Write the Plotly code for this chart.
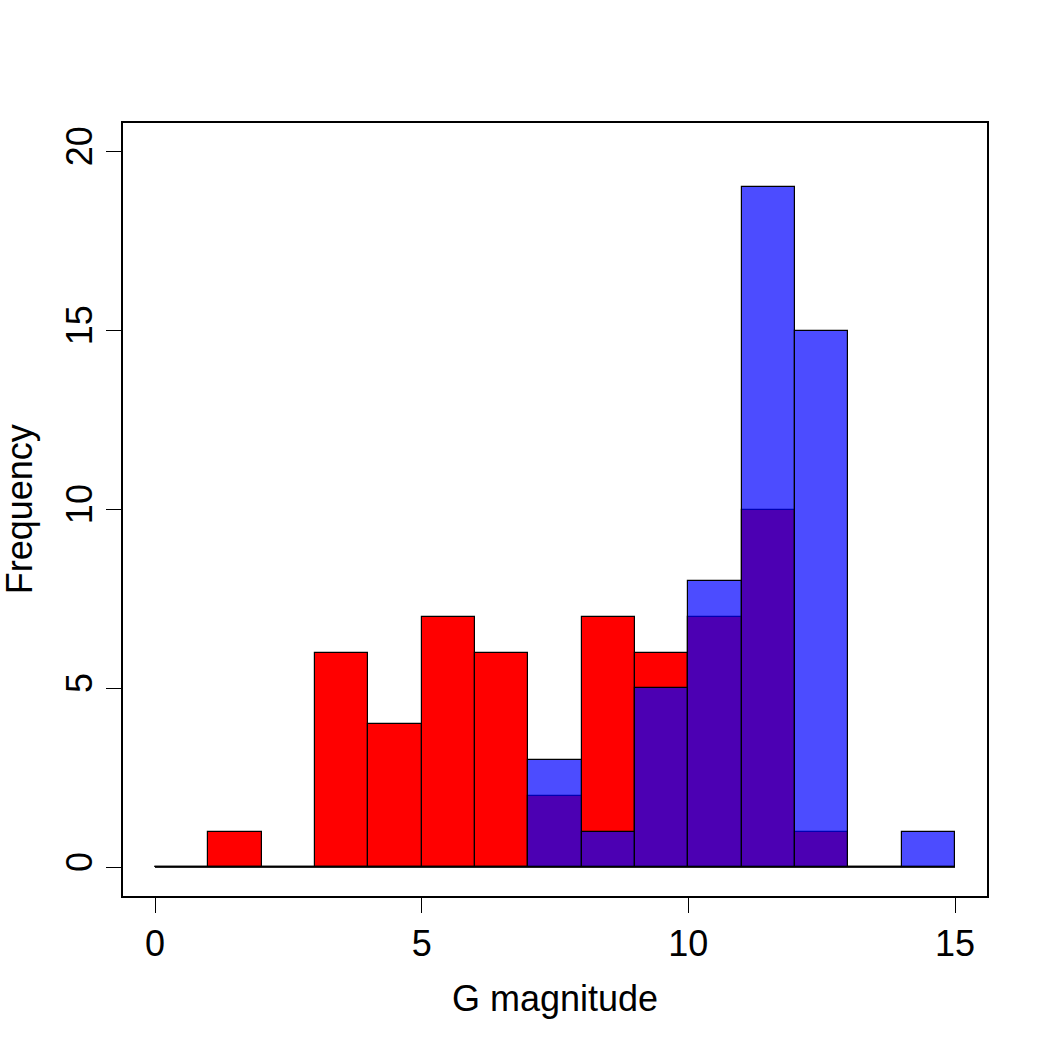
import plotly.graph_objects as go

bin_edges = list(range(0, 16))
bin_centers = [e + 0.5 for e in bin_edges[:-1]]
red_counts = [0, 1, 0, 6, 4, 7, 6, 2, 7, 6, 7, 10, 1, 0, 0]
blue_counts = [0, 0, 0, 0, 0, 0, 0, 3, 1, 5, 8, 19, 15, 0, 1]
x_ticks = [0, 5, 10, 15]
y_ticks = [0, 5, 10, 15, 20]

FONT = "Liberation Sans, Arial, sans-serif"

fig = go.Figure()
# zero baseline as R draws zero-height bins
fig.add_trace(go.Scatter(x=[bin_edges[0], bin_edges[-1]], y=[0, 0], mode="lines",
                         line=dict(color="black", width=1), hoverinfo="skip", showlegend=False))
fig.add_trace(go.Bar(x=bin_centers, y=red_counts, width=1,
                     marker=dict(color="rgb(255,0,0)", line=dict(color="black", width=1.2)),
                     showlegend=False))
fig.add_trace(go.Bar(x=bin_centers, y=blue_counts, width=1,
                     marker=dict(color="rgba(0,0,255,0.7)", line=dict(color="black", width=1.2)),
                     showlegend=False))

fig.update_layout(
    width=1050, height=1050,
    margin=dict(l=123, r=63, t=123, b=154),
    paper_bgcolor="white", plot_bgcolor="white",
    barmode="overlay", bargap=0,
    font=dict(family=FONT, size=36, color="black"),
    xaxis=dict(range=[-0.6, 15.6], tickvals=x_ticks, ticks="outside", ticklen=15,
               tickwidth=1.2, tickcolor="black", showline=True, linecolor="black",
               linewidth=1.5, mirror=True, showgrid=False, zeroline=False,
               tickfont=dict(size=36)),
    yaxis=dict(range=[-0.8, 20.8], tickvals=y_ticks, ticks="outside", ticklen=15,
               tickwidth=1.2, tickcolor="black", showline=True, linecolor="black",
               linewidth=1.5, mirror=True, showgrid=False, zeroline=False,
               tickangle=-90, tickfont=dict(size=36)),
    annotations=[
        dict(text="G magnitude", xref="paper", yref="paper", x=0.5, y=-0.132,
             xanchor="center", yanchor="middle", showarrow=False, font=dict(size=36)),
        dict(text="Frequency", xref="paper", yref="paper", x=-0.1195, y=0.5,
             xanchor="center", yanchor="middle", textangle=-90, showarrow=False,
             font=dict(size=36)),
    ],
)

fig.write_html("out.html")
